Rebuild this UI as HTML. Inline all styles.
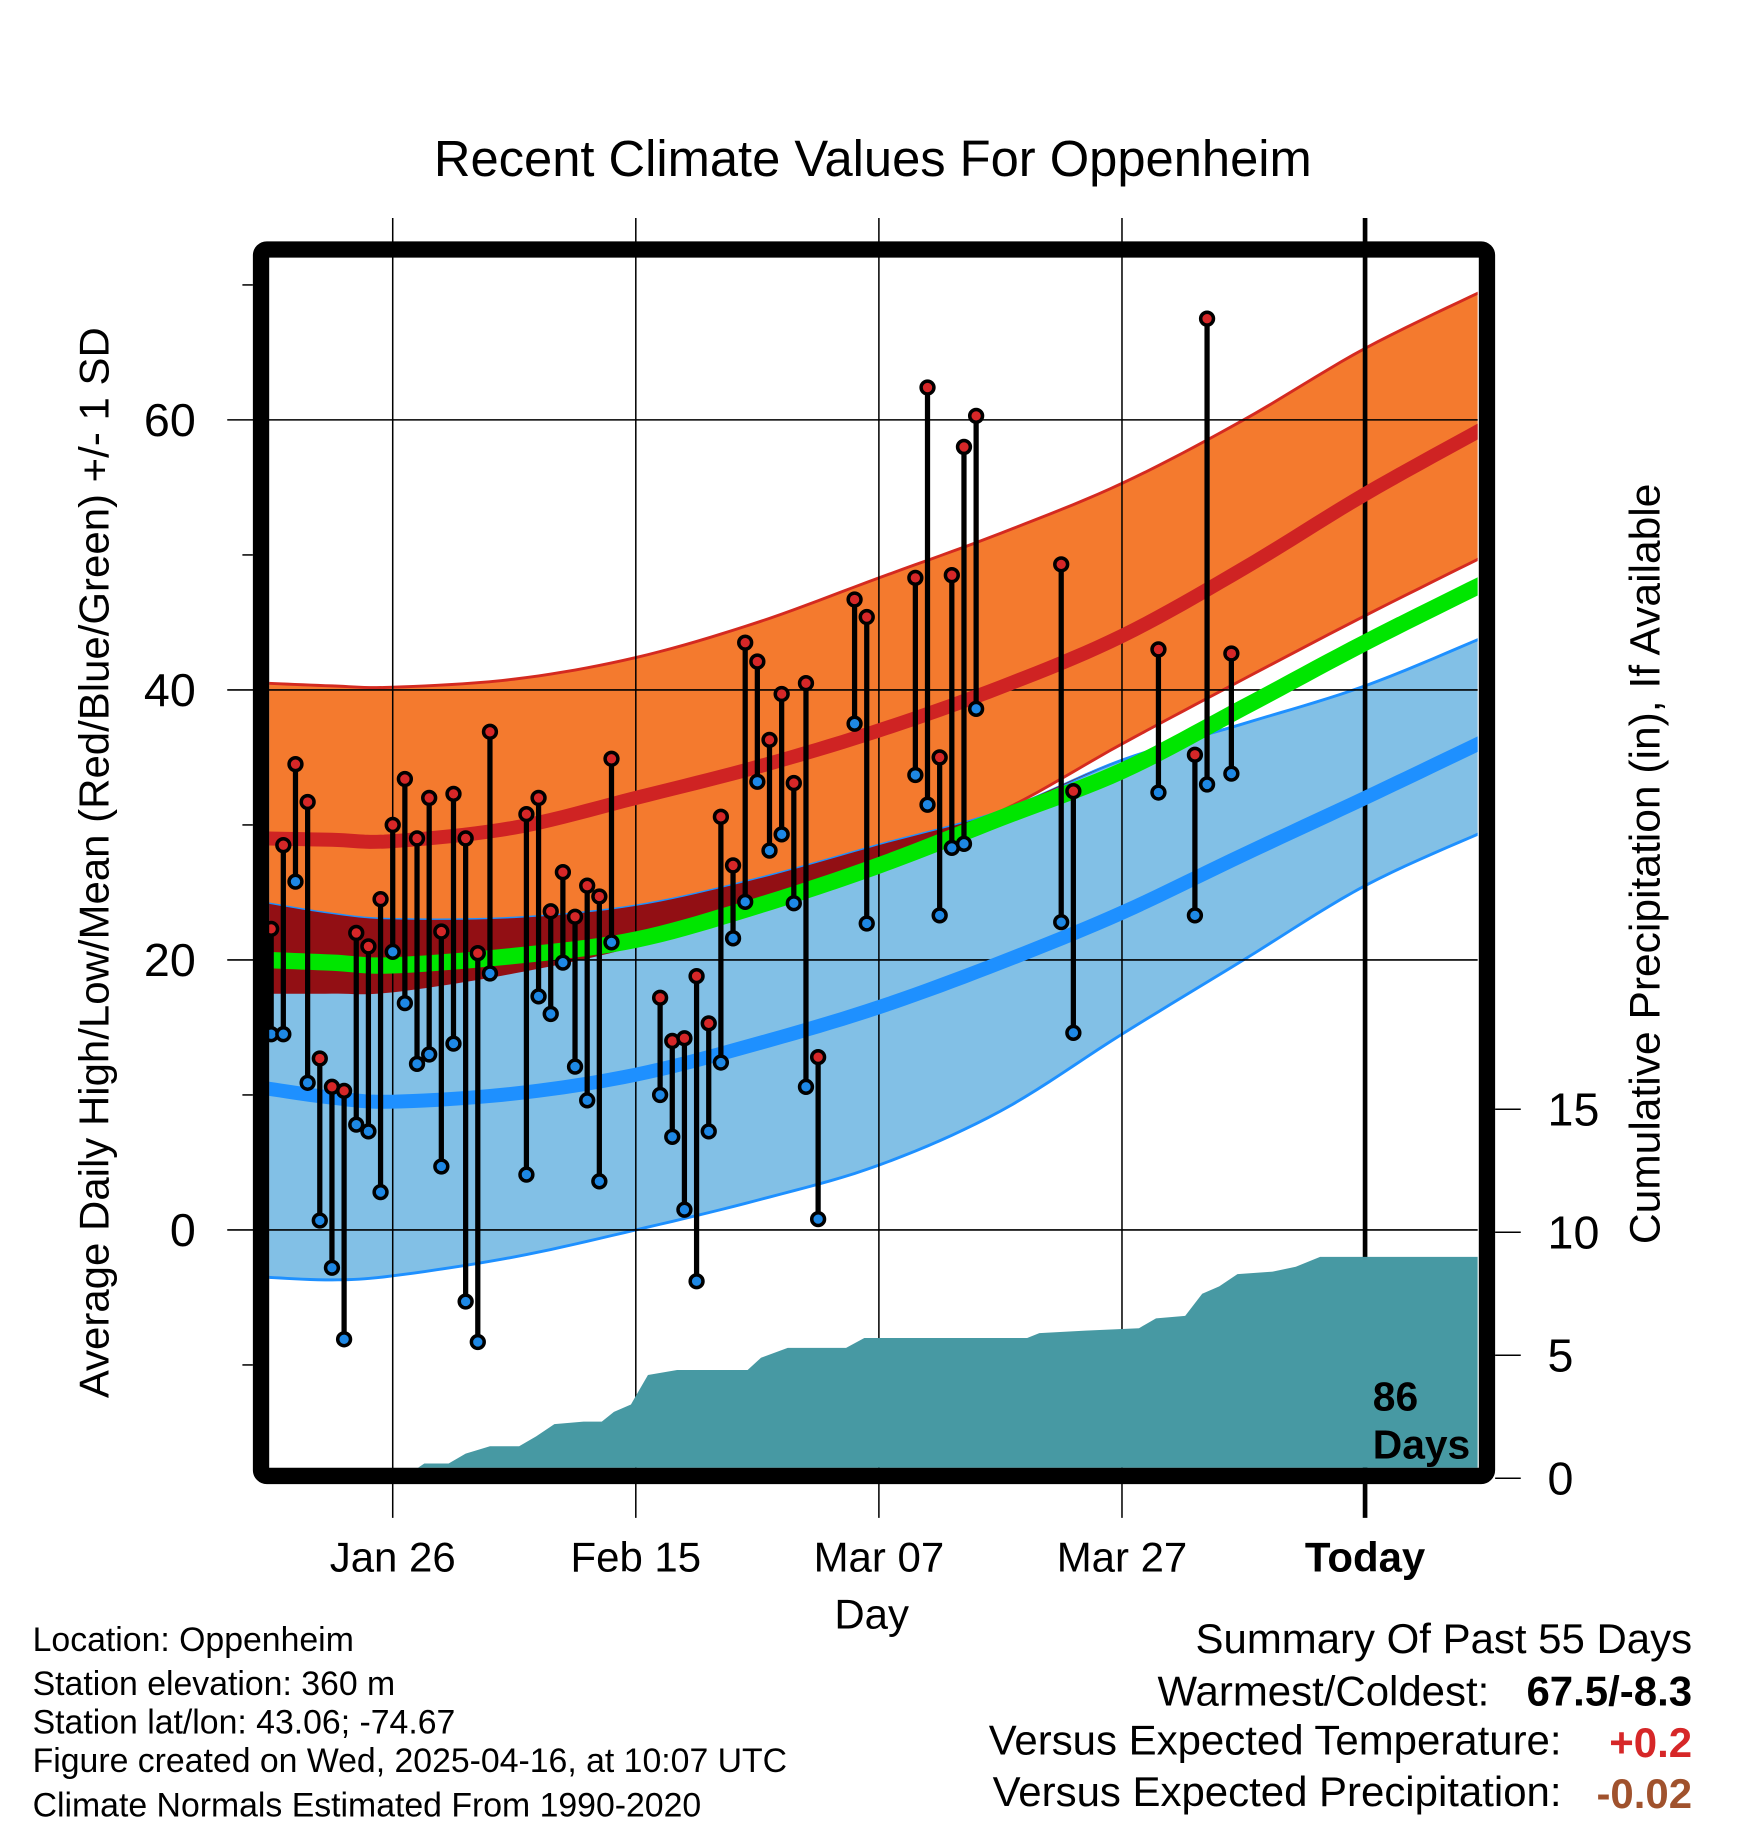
<!DOCTYPE html>
<html><head><meta charset="utf-8"><style>html,body{margin:0;padding:0;background:#fff}svg{display:block}</style></head>
<body>
<svg id="chart" width="1748" height="1828" viewBox="0 0 1500 1568" preserveAspectRatio="none" xmlns="http://www.w3.org/2000/svg" font-family="Liberation Sans, Arial, sans-serif">
<defs><clipPath id="plotclip"><rect x="231" y="221" width="1037" height="1038"/></clipPath></defs>
<g id="bands" clip-path="url(#plotclip)"></g>
<g id="grid"></g>
<g id="precip" clip-path="url(#plotclip)"></g>
<g id="lines" clip-path="url(#plotclip)"></g>
<g id="obs"></g>
<rect x="224" y="214" width="1052" height="1052" rx="5" fill="none" stroke="#000" stroke-width="14"/>
<g id="axes"></g>
<text x="749" y="151" font-size="43.5" text-anchor="middle">Recent Climate Values For Oppenheim</text>
<text transform="translate(93,740) rotate(-90)" font-size="36" text-anchor="middle">Average Daily High/Low/Mean (Red/Blue/Green) +/- 1 SD</text>
<text transform="translate(1424,741) rotate(-90)" font-size="36.5" text-anchor="middle">Cumulative Precipitation (in), If Available</text>
<text x="748" y="1397" font-size="36" text-anchor="middle">Day</text>
<text x="1178" y="1210" font-size="35" font-weight="bold">86</text>
<text x="1178" y="1251" font-size="35" font-weight="bold">Days</text>
<g font-size="29">
<text x="28" y="1416">Location: Oppenheim</text>
<text x="28" y="1454">Station elevation: 360 m</text>
<text x="28" y="1487">Station lat/lon: 43.06; -74.67</text>
<text x="28" y="1520">Figure created on Wed, 2025-04-16, at 10:07 UTC</text>
<text x="28" y="1558">Climate Normals Estimated From 1990-2020</text>
</g>
<g font-size="36" text-anchor="end">
<text x="1452" y="1418">Summary Of Past 55 Days</text>
<text x="1278" y="1463">Warmest/Coldest:</text>
<text x="1452" y="1463" font-weight="bold">67.5/-8.3</text>
<text x="1340" y="1505">Versus Expected Temperature:</text>
<text x="1452" y="1507" font-weight="bold" fill="#d62728">+0.2</text>
<text x="1340" y="1549">Versus Expected Precipitation:</text>
<text x="1452" y="1551" font-weight="bold" fill="#a0522d">-0.02</text>
</g>
</svg>
<script>
// ---- data (days relative to Jan 26) ----
const obsDays  = [-10,-9,-8,-7,-6,-5,-4,-3,-2,-1,0,1,2,3,4,5,6,7,8,11,12,13,14,15,16,17,18,22,23,24,25,26,27,28,29,30,31,32,33,34,35,38,39,43,44,45,46,47,48,55,56,63,66,67,69];
const highs    = [22.3,28.5,34.5,31.7,12.7,10.6,10.3,22,21,24.5,30,33.4,29,32,22.1,32.3,29,20.5,36.9,30.8,32,23.6,26.5,23.2,25.5,24.7,34.9,17.2,14,14.2,18.8,15.3,30.6,27,43.5,42.1,36.3,39.7,33.1,40.5,12.8,46.7,45.4,48.3,62.4,35,48.5,58,60.3,49.3,32.5,43,35.2,67.5,42.7];
const lows     = [14.5,14.5,25.8,10.9,0.7,-2.8,-8.1,7.8,7.3,2.8,20.6,16.8,12.3,13,4.7,13.8,-5.3,-8.3,19,4.1,17.3,16,19.8,12.1,9.6,3.6,21.3,10,6.9,1.5,-3.8,7.3,12.4,21.6,24.3,33.2,28.1,29.3,24.2,10.6,0.8,37.5,22.7,33.7,31.5,23.3,28.3,28.6,38.6,22.8,14.6,32.4,23.3,33,33.8];
const normDays    = [-10.5,-5,0,10,20,30,40,50,60,70,80,90];
const normHighUp  = [40.5,40.3,40.2,40.8,42.4,45,48.3,51.6,55.3,60,65.3,69.7];
const normHigh    = [29,28.9,28.8,29.8,32,34.3,37,40.2,44,49,54.5,59.5];
const normHighLo  = [17.5,17.5,17.6,19,21,24,27.5,31,36,40.8,45.5,50];
const normMean    = [20,19.8,19.6,20.3,21.5,24,27,30.5,34,38.7,43.5,48];
const normLowUp   = [24.2,23.4,23,23.1,24,26,28.5,31,34.8,37.5,40.3,44];
const normLow     = [10.5,9.8,9.5,10.1,11.5,13.8,16.5,19.8,23.5,27.8,32,36.3];
const normLowLo   = [-3.5,-3.7,-3.4,-2,0,2.2,4.8,8.8,14.5,20,25.5,29.6];
const precipDays  = [0.8,2.6,4.6,6,8,10.4,11.8,13.3,15.7,17.2,18.2,19.6,21,23.4,29.2,30.3,32.5,37.3,38.8,52.2,53.2,57,61.4,62.8,65.2,66.6,68,69.5,72.4,74.3,76.3,89.9];
const precipVals  = [0,0.6,0.6,1,1.3,1.3,1.7,2.2,2.3,2.3,2.7,3,4.2,4.4,4.4,4.9,5.3,5.3,5.7,5.7,5.9,6.0,6.1,6.5,6.6,7.5,7.8,8.3,8.4,8.6,9.0,9.0];
const yTicks = [0,20,40,60];
const yMinor = [-10,10,30,50,70];
const pTicks = [0,5,10,15];
const xTickDays = [0,20,40,60,80];
const xTickLabels = ["Jan 26","Feb 15","Mar 07","Mar 27","Today"];
// ---- scales ----
const X = d => 337 + 10.43*d;
const Y = v => 1055 - 11.58*v;
const P = v => 1268 - 21.1*v;
const NS = "http://www.w3.org/2000/svg";
function mk(parent, tag, attrs){const e=document.createElementNS(NS,tag);for(const k in attrs)e.setAttribute(k,attrs[k]);parent.appendChild(e);return e;}
function curve(days, vals){
  const pts=[];const n=days.length;
  for(let i=0;i<n-1;i++){
    const p0=i>0?i-1:i,p3=i+2<n?i+2:i+1;
    for(let t=0;t<1;t+=0.1){
      const c=(a)=>{const v0=a[p0],v1=a[i],v2=a[i+1],v3=a[p3];return 0.5*((2*v1)+(-v0+v2)*t+(2*v0-5*v1+4*v2-v3)*t*t+(-v0+3*v1-3*v2+v3)*t*t*t);};
      pts.push([X(c(days)),Y(c(vals)),c(vals)]);
    }
  }
  pts.push([X(days[n-1]),Y(vals[n-1]),vals[n-1]]);return pts;
}
const bands=document.getElementById('bands');
function band(up,lo,fill,name,stroke){
  const a=curve(normDays,up),b=curve(normDays,lo).reverse();
  const el=mk(bands,'path',{d:'M'+a.map(p=>p[0]+','+p[1]).join('L')+'L'+b.map(p=>p[0]+','+p[1]).join('L')+'Z',fill:fill});
  
  
  if(stroke){const s1=mk(bands,'polyline',{points:a.map(p=>p[0]+','+p[1]).join(' '),fill:'none',stroke:stroke,'stroke-width':2.5});
    
    
    const s2=mk(bands,'polyline',{points:b.map(p=>p[0]+','+p[1]).join(' '),fill:'none',stroke:stroke,'stroke-width':2.5});
    
    }
}
band(normHighUp,normHighLo,'#f47a2e','high-sd-band','#d42a20');
band(normLowUp,normLowLo,'#82c0e6','low-sd-band','#1e90ff');
(function(){const up=normLowUp.map((v,i)=>Math.min(v,normHighUp[i]));const lo=normHighLo.map((v,i)=>Math.min(v,up[i]));
  const a=curve(normDays,up),b=curve(normDays,lo).reverse();
  const el=mk(bands,'path',{d:'M'+a.map(p=>p[0]+','+p[1]).join('L')+'L'+b.map(p=>p[0]+','+p[1]).join('L')+'Z',fill:'#920f14'});
  
  
})();
const grid=document.getElementById('grid');
xTickDays.forEach((d,i)=>{const today=i===xTickDays.length-1;
  const l=mk(grid,'line',{x1:X(d),x2:X(d),y1:187,y2:1302,stroke:'#000','stroke-width':today?4:1.3});
  
  });
yTicks.forEach(v=>{const l=mk(grid,'line',{x1:195,x2:1268,y1:Y(v),y2:Y(v),stroke:'#000','stroke-width':1.3});
  
  });
const pr=document.getElementById('precip');
(function(){let d='M'+X(precipDays[0])+','+P(0);precipDays.forEach((dd,i)=>{d+='L'+X(dd)+','+P(precipVals[i]);});d+='L'+X(precipDays[precipDays.length-1])+','+P(0)+'Z';
  const el=mk(pr,'path',{d:d,fill:'#4799a3'});
  
  })();
const lines=document.getElementById('lines');
function line(vals,color,w,name){const pts=curve(normDays,vals);const el=mk(lines,'polyline',{points:pts.map(p=>p[0]+','+p[1]).join(' '),fill:'none',stroke:color,'stroke-width':w});
  
  }
line(normHigh,'#cf2323',12,'mean-high-line');
line(normMean,'#00e600',14,'mean-line');
line(normLow,'#1e90ff',12,'mean-low-line');
const obs=document.getElementById('obs');
obsDays.forEach((d,i)=>{const x=X(d);
  const s=mk(obs,'line',{x1:x,x2:x,y1:Y(highs[i]),y2:Y(lows[i]),stroke:'#000','stroke-width':4.5});
  
  
  const h=mk(obs,'circle',{cx:x,cy:Y(highs[i]),r:5.5,fill:'#d62728',stroke:'#000','stroke-width':3});
  
  
  const lo=mk(obs,'circle',{cx:x,cy:Y(lows[i]),r:5.5,fill:'#1e88e5',stroke:'#000','stroke-width':3});
  
  
});
const ax=document.getElementById('axes');
yTicks.forEach(v=>{const t=mk(ax,'text',{x:168,y:Y(v)+14,'font-size':40,'text-anchor':'end'});t.textContent=v;
  
  });
yMinor.forEach(v=>{const l=mk(ax,'line',{x1:208,x2:217,y1:Y(v),y2:Y(v),stroke:'#000','stroke-width':1.3});
  
  });
pTicks.forEach(v=>{const l=mk(ax,'line',{x1:1283,x2:1305,y1:P(v),y2:P(v),stroke:'#000','stroke-width':1.3});
  
  
  const t=mk(ax,'text',{x:1328,y:P(v)+14,'font-size':40});t.textContent=v;
  
  });
xTickDays.forEach((d,i)=>{const t=mk(ax,'text',{x:X(d),y:1348,'font-size':36,'text-anchor':'middle'});t.textContent=xTickLabels[i];
  if(i===xTickDays.length-1)t.setAttribute('font-weight','bold');
  
  });
</script>
</body></html>
